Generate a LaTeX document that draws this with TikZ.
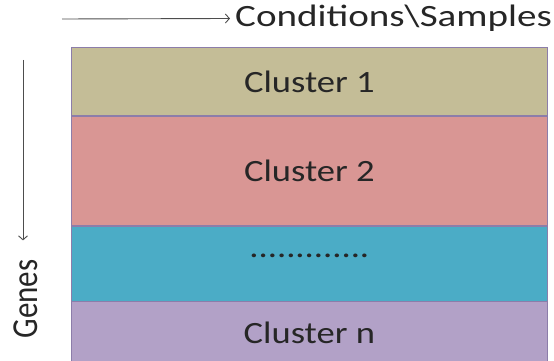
\documentclass[tikz,border=0pt]{standalone}
\usepackage{fontspec}
\setmainfont{Carlito}
\usetikzlibrary{positioning, arrows.meta}

\definecolor{tanband}{HTML}{C4BD97}
\definecolor{roseband}{HTML}{D99694}
\definecolor{aquaband}{HTML}{4BACC6}
\definecolor{lilacband}{HTML}{B2A1C7}
\definecolor{bandedge}{HTML}{8C7DAA}
\definecolor{arrowgray}{HTML}{4D4D4D}

\tikzset{
    band/.style={draw=bandedge, line width=0.8pt, minimum width=476pt, inner sep=0pt,
        anchor=north west, text=black!85, font=\fontsize{31}{37}\selectfont},
    axis/.style={-{Straight Barb[length=4pt, width=9pt]}, arrowgray, line width=0.9pt},
    axislabel/.style={text=black!85, font=\fontsize{31}{37}\selectfont, inner sep=2pt}
}

\begin{document}
\begin{tikzpicture}[x=1pt, y=-1pt]
    \useasboundingbox (0,0) rectangle (554,361);
    % stacked clusters
    \node[band, fill=tanband, minimum height=68pt] (c1) at (71,47) {\scalebox{1.18}[1]{Cluster 1}};
    \node[band, fill=roseband, minimum height=109pt, below=0pt of c1] (c2) {\scalebox{1.18}[1]{Cluster 2}};
    \node[band, fill=aquaband, minimum height=75pt, below=0pt of c2, text depth=16pt] (c3) {\scalebox{1.18}[1]{.............}};
    \node[band, fill=lilacband, minimum height=63pt, below=0pt of c3] (cn) {\scalebox{1.18}[1]{Cluster n}};
    % axes
    \coordinate (cstart) at (62,19);
    \node[axislabel, anchor=west] (cond) at (233,18) {\scalebox{1.26}[1]{Conditions\textbackslash Samples}};
    \draw[axis, shorten >=3pt] (cstart) -- (cond);
    \coordinate (gstart) at (23,60);
    \node[axislabel, rotate=90] (genes) at (26,299) {\scalebox{1}[1.18]{Genes}};
    \draw[axis, shorten >=17pt] (gstart) -- (gstart |- genes.east);
\end{tikzpicture}
\end{document}
